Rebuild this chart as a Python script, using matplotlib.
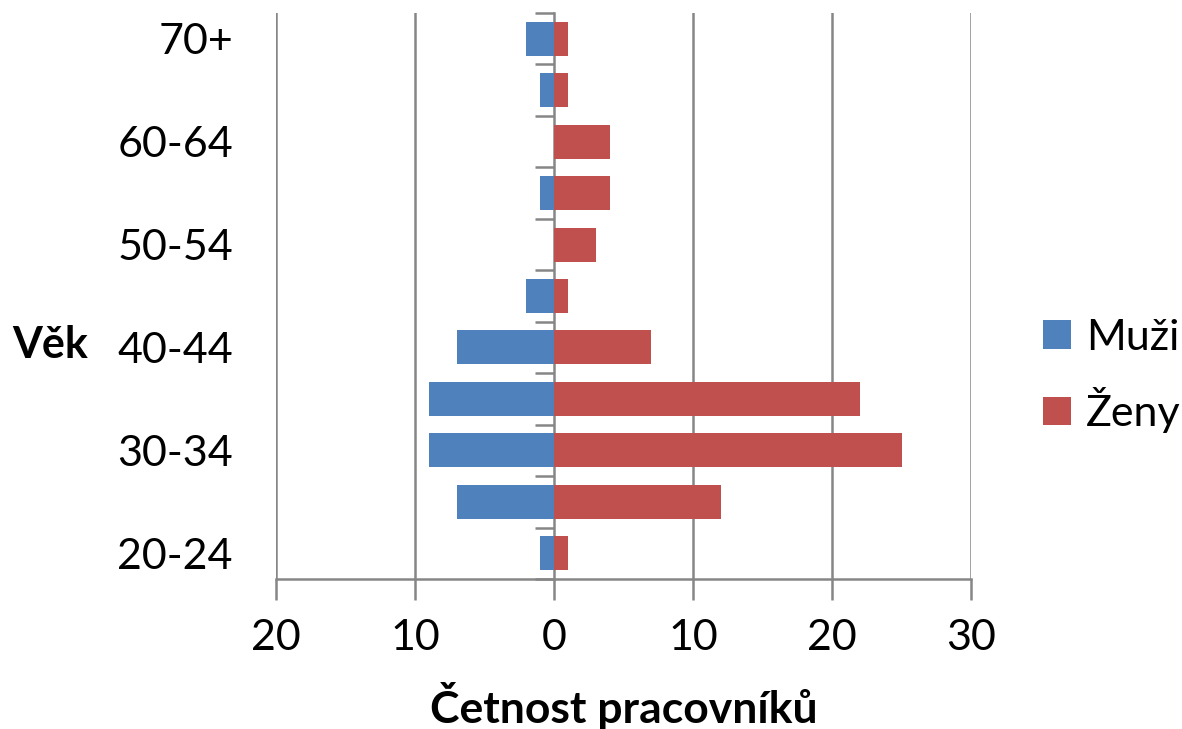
import numpy as np
import matplotlib.pyplot as plt
from matplotlib.ticker import FuncFormatter

# age groups, bottom to top
age_groups = ["20-24", "25-29", "30-34", "35-39", "40-44", "45-49",
              "50-54", "55-59", "60-64", "65-69", "70+"]
muzi = [1, 7, 9, 9, 7, 2, 0, 1, 0, 1, 2]
zeny = [1, 12, 25, 22, 7, 1, 3, 4, 4, 1, 1]

x_ticks = [-20, -10, 0, 10, 20, 30]

plt.rcParams['font.family'] = ['Lato', 'DejaVu Sans']

fig = plt.figure(figsize=(11.82, 7.29), dpi=100)
ax = fig.add_axes([276/1182, 1 - 579/729, (971-276)/1182, (579-13)/729])

y = np.arange(len(age_groups))
grid_col = "#868686"

ax.barh(y, [-m for m in muzi], height=0.66, color="#4F81BD", label="Muži", zorder=3)
ax.barh(y, zeny, height=0.66, color="#C0504D", label="Ženy", zorder=3)

ax.set_xlim(-20, 30)
ax.set_ylim(-0.5, len(age_groups) - 0.5)

# vertical grid
for v in x_ticks:
    if v != 0:
        ax.axvline(v, color=grid_col, lw=1.8, zorder=1)

ax.set_xticks(x_ticks)
ax.xaxis.set_major_formatter(FuncFormatter(lambda v, p: str(abs(int(v)))))
ax.tick_params(axis='x', direction='out', length=15, width=1.8, color=grid_col,
               labelsize=31, pad=14)

# labels every other group on the far left
ax.set_yticks(y[::2])
ax.set_yticklabels(age_groups[::2])
ax.tick_params(axis='y', length=0, labelsize=31, pad=31)

for s in ['top', 'right', 'left']:
    ax.spines[s].set_visible(False)
ax.spines['bottom'].set_color(grid_col)
ax.spines['bottom'].set_linewidth(1.8)

# centre axis at zero with boundary ticks
sec = ax.secondary_yaxis(20/50)
sec.set_yticks(np.arange(-0.5, len(age_groups), 1.0))
sec.set_yticklabels([])
sec.tick_params(direction='out', length=14, width=1.8, color=grid_col)
sec.spines['left'].set_color(grid_col)
sec.spines['left'].set_linewidth(1.8)
for s in ['top', 'right', 'bottom']:
    sec.spines[s].set_visible(False)

ax.set_xlabel("Četnost pracovníků", fontsize=32, fontweight='bold', labelpad=18)
fig.text(12/1182, 1 - 345/729, "Věk", fontsize=31, fontweight='bold',
         ha='left', va='center')

fig.legend(loc='center left', bbox_to_anchor=(1043/1182, 1 - 376/729),
           frameon=False, fontsize=31, handlelength=0.65, handleheight=0.65,
           handletextpad=0.35, labelspacing=0.7, borderpad=0, borderaxespad=0)

fig.savefig("out.png", dpi=100)
